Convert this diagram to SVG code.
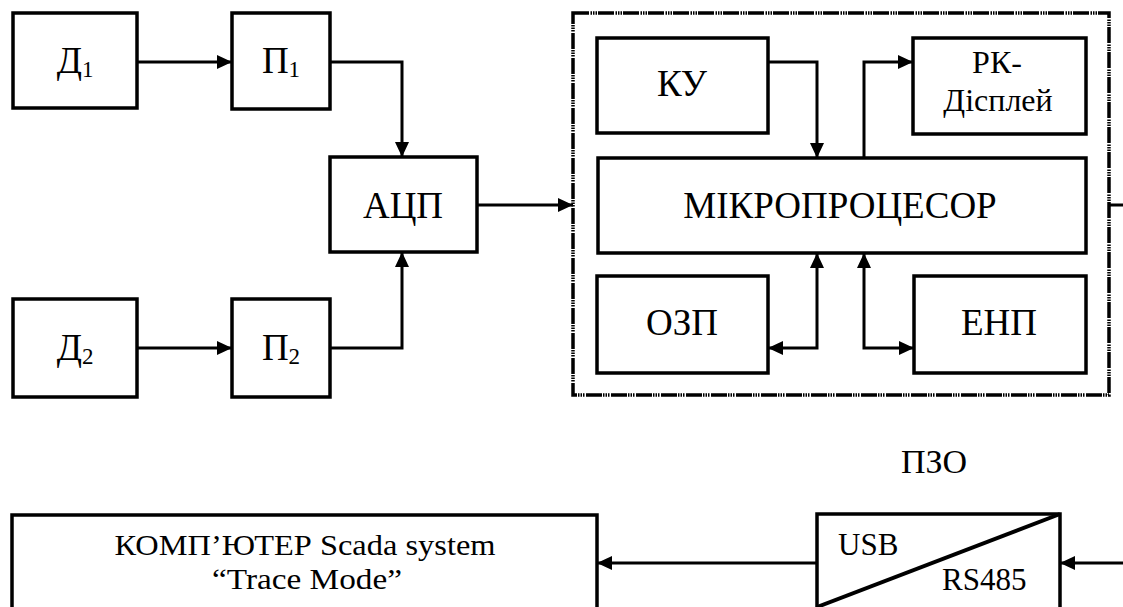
<svg xmlns="http://www.w3.org/2000/svg" width="1123" height="607" viewBox="0 0 1123 607">
<style>
.b{fill:#fff;stroke:#000;stroke-width:3.5}
.c{fill:none;stroke:#000;stroke-width:3}
.t{font-family:"Liberation Serif","DejaVu Serif",serif;font-size:37px;fill:#000;text-anchor:middle}
.s{font-size:23px}
.m{font-family:"Liberation Serif","DejaVu Serif",serif;font-size:31px;fill:#000}
.d{fill:none;stroke:#000;stroke-width:3.5;stroke-dasharray:16 1.5 1.5 1 1.5 1 1.5 1}
</style>
<defs>
<marker id="a" markerUnits="userSpaceOnUse" markerWidth="16" markerHeight="14" refX="15" refY="7" orient="auto-start-reverse">
<path d="M0,0 L15,7 L0,14 Z" fill="#000"/>
</marker>
</defs>
<rect width="1123" height="607" fill="#fff"/>
<g id="pzo-frame">
<rect class="d" x="573" y="13" width="536" height="382"/>
</g>
<g id="d1"><rect class="b" x="13" y="13" width="124" height="95"/><text class="t" x="75" y="73">Д<tspan class="s" dy="4">1</tspan></text></g>
<g id="p1"><rect class="b" x="232" y="13" width="98" height="96"/><text class="t" x="281" y="73">П<tspan class="s" dy="4">1</tspan></text></g>
<g id="d2"><rect class="b" x="13" y="299" width="124" height="98"/><text class="t" x="75" y="360">Д<tspan class="s" dy="4">2</tspan></text></g>
<g id="p2"><rect class="b" x="232" y="299" width="98" height="98"/><text class="t" x="281" y="360">П<tspan class="s" dy="4">2</tspan></text></g>
<g id="adc"><rect class="b" x="330" y="157" width="147" height="95"/><text class="t" x="403" y="218">АЦП</text></g>
<g id="ku"><rect class="b" x="597" y="38" width="171" height="95"/><text class="t" x="682" y="96">КУ</text></g>
<g id="rk"><rect class="b" x="913" y="38" width="173" height="96"/><text class="t" x="997" y="73" style="font-size:32px">РК-</text><text class="t" x="998" y="111" style="font-size:32px">Дiсплей</text></g>
<g id="mp"><rect class="b" x="598" y="158" width="488" height="95"/><text class="t" x="840" y="218">МІКРОПРОЦЕСОР</text></g>
<g id="ozp"><rect class="b" x="597" y="276" width="171" height="97"/><text class="t" x="682" y="335">ОЗП</text></g>
<g id="enp"><rect class="b" x="914" y="276" width="172" height="97"/><text class="t" x="999" y="335">ЕНП</text></g>
<g id="pzo-label"><text class="t" x="934" y="473" style="font-size:34px">ПЗО</text></g>
<g id="computer"><rect class="b" x="12" y="515" width="585" height="140"/><text class="t" x="305" y="555" style="font-size:29px" textLength="381" lengthAdjust="spacingAndGlyphs">КОМП’ЮТЕР Scada system</text><text class="t" x="307" y="589" style="font-size:29px" textLength="190" lengthAdjust="spacingAndGlyphs">“Trace Mode”</text></g>
<g id="converter"><rect class="b" x="817" y="514" width="243" height="140"/><line class="c" x1="1060" y1="514" x2="817" y2="607" style="stroke-width:4"/><text class="m" x="838" y="555">USB</text><text class="m" x="942" y="590">RS485</text></g>
<g id="connectors">
<path class="c" d="M137 62 H232" marker-end="url(#a)"/>
<path class="c" d="M137 348 H232" marker-end="url(#a)"/>
<path class="c" d="M330 62 H402 V157" marker-end="url(#a)"/>
<path class="c" d="M330 348 H402 V252" marker-end="url(#a)"/>
<path class="c" d="M477 205 H573" marker-end="url(#a)"/>
<path class="c" d="M768 62 H817 V158" marker-end="url(#a)"/>
<path class="c" d="M864 158 V62 H913" marker-end="url(#a)"/>
<path class="c" d="M817 253 V348 H768" marker-start="url(#a)" marker-end="url(#a)"/>
<path class="c" d="M864 253 V348 H914" marker-start="url(#a)" marker-end="url(#a)"/>
<path class="c" d="M1109 205 H1135 V563 H1060" marker-end="url(#a)"/>
<path class="c" d="M817 563 H597" marker-end="url(#a)"/>
</g>
</svg>
